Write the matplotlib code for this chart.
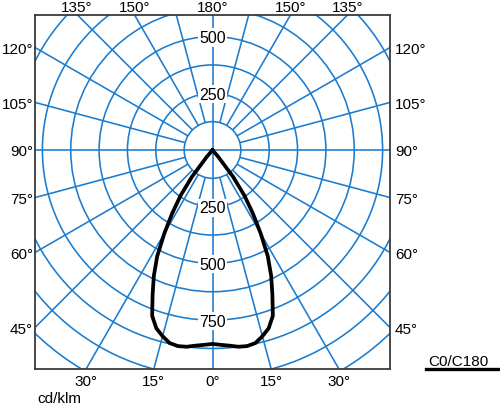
import numpy as np
import matplotlib
matplotlib.use('Agg')
import matplotlib.pyplot as plt
from matplotlib.patches import Circle
from matplotlib.lines import Line2D
from matplotlib.transforms import offset_copy

plt.rcParams['font.family'] = ['Liberation Sans', 'DejaVu Sans']

# ---- data (cd/klm), gamma measured from nadir ----
gamma = [0, 2.5, 5, 7.5, 10, 12.5, 15, 17.5, 20, 22.5, 25, 27.5, 30, 32.5, 35, 37.5, 40, 42.5]
intensity_c0 = [855, 860, 866, 875, 878, 872, 850, 824, 778, 690, 612, 528, 425, 330, 245, 150, 40, 0]
intensity_c180 = [855, 860, 866, 875, 878, 872, 850, 824, 778, 690, 612, 528, 425, 330, 245, 150, 40, 0]

ring_values = [125, 250, 375, 500, 625, 750, 875, 1000, 1125, 1250, 1375]
ring_labels_up = [250, 500]
ring_labels_down = [250, 500, 750]
ray_angles = list(range(0, 360, 15))
side_angle_labels = [45, 60, 75, 90, 105, 120]
top_angle_labels = [135, 150, 180]
bottom_angle_labels = [0, 15, 30]
legend_label = 'C0/C180'
unit_label = 'cd/klm'

GRID = '#1a7ccf'
FS = 11

fig = plt.figure(figsize=(5, 4.06), dpi=100)
ax = fig.add_axes([35 / 500, 1 - 370 / 406, 355 / 500, 354.5 / 406])
XMAX = 782.6
YTOP = 597.4
YBOT = -965.6
ax.set_xlim(-XMAX, XMAX)
ax.set_ylim(YBOT, YTOP)
ax.set_xticks([])
ax.set_yticks([])
for s in ax.spines.values():
    s.set_color('#3a3a3a')
    s.set_linewidth(1.3)
    s.set_zorder(5)

# rings
for r in ring_values:
    ax.add_patch(Circle((0, 0), r, fill=False, ec=GRID, lw=1.15, zorder=1))

# rays
for a in ray_angles:
    rad = np.deg2rad(a)
    r0 = 0 if a % 90 == 0 else ring_values[0]
    r1 = 3000
    ax.plot([r0 * np.sin(rad), r1 * np.sin(rad)], [-r0 * np.cos(rad), -r1 * np.cos(rad)],
            color=GRID, lw=1.15, zorder=1, solid_capstyle='butt')

# ring value labels
bb = dict(fc='white', ec='none', pad=1.2)
for v in ring_labels_up:
    ax.text(0, v, str(v), ha='center', va='baseline', fontsize=11.5, zorder=3, bbox=bb,
            transform=offset_copy(ax.transData, fig, 0, -5.5, units='dots'))
for v in ring_labels_down:
    ax.text(0, -v, str(v), ha='center', va='baseline', fontsize=11.5, zorder=3, bbox=bb,
            transform=offset_copy(ax.transData, fig, 0, -5.5, units='dots'))

# angle labels
for a in side_angle_labels:
    rad = np.deg2rad(a)
    t = XMAX / np.sin(rad)
    y = -np.cos(rad) * t
    ax.text(-XMAX, y, f'{a}°', ha='right', va='baseline', fontsize=FS, clip_on=False,
            transform=offset_copy(ax.transData, fig, -2, -5.5, units='dots'))
    ax.text(XMAX, y, f'{a}°', ha='left', va='baseline', fontsize=FS, clip_on=False,
            transform=offset_copy(ax.transData, fig, 5, -5.5, units='dots'))
for a in top_angle_labels:
    rad = np.deg2rad(a)
    t = YTOP / (-np.cos(rad))
    x = np.sin(rad) * t
    xs = [0] if a == 180 else [-x, x]
    for xx in xs:
        ax.text(xx, YTOP, f'{a}°', ha='center', va='bottom', fontsize=FS, clip_on=False,
                transform=offset_copy(ax.transData, fig, 0, 0.5, units='dots'))
for a in bottom_angle_labels:
    rad = np.deg2rad(a)
    t = -YBOT / np.cos(rad)
    x = np.sin(rad) * t
    xs = [0] if a == 0 else [-x, x]
    for xx in xs:
        ax.text(xx, YBOT, f'{a}°', ha='center', va='top', fontsize=FS, clip_on=False,
                transform=offset_copy(ax.transData, fig, 0, -5, units='dots'))

# intensity curve
g = np.deg2rad(np.array(gamma))
i0 = np.array(intensity_c0, dtype=float)
i180 = np.array(intensity_c180, dtype=float)
xl = -i180 * np.sin(g)
yl = -i180 * np.cos(g)
xr = i0 * np.sin(g)
yr = -i0 * np.cos(g)
xs = np.concatenate([xl[::-1], xr[1:]])
ys = np.concatenate([yl[::-1], yr[1:]])
ax.plot(xs, ys, color='black', lw=2.7, zorder=4, solid_joinstyle='round', solid_capstyle='round')

# legend and unit
fig.text(428 / 500, 1 - 366 / 406, legend_label, ha='left', va='baseline', fontsize=FS)
fig.add_artist(Line2D([426 / 500, 499 / 500], [1 - 369.5 / 406] * 2, lw=2.4, color='black',
                      transform=fig.transFigure))
fig.text(37 / 500, 3 / 406, unit_label, ha='left', va='baseline', fontsize=FS)

fig.savefig('out.png', dpi=100)
